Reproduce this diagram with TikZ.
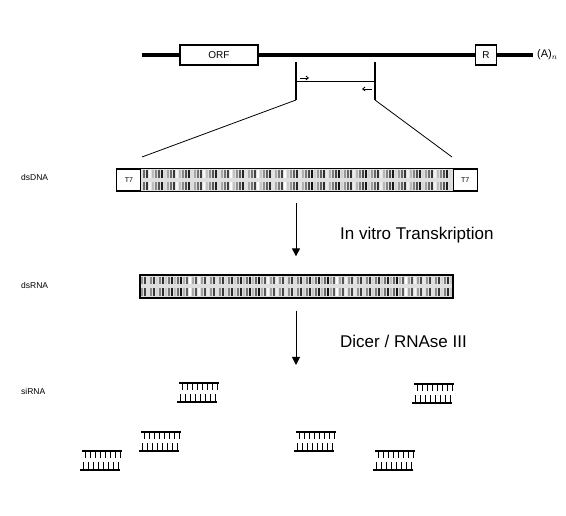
\documentclass[tikz,border=0pt]{standalone}
\usepackage{fontspec}
\setmainfont{Liberation Sans}
\usetikzlibrary{positioning,arrows.meta}

\begin{document}
\begin{tikzpicture}[x=1pt,y=-1pt,
    gene/.style={line width=3.5pt},
    genebox/.style={rectangle,draw,line width=1.3pt,fill=white,
                    minimum height=20pt,inner sep=0pt,
                    font=\fontsize{10}{12}\selectfont},
    strand/.style={rectangle,draw,line width=1.3pt,fill=gray!25,
                   minimum height=23pt,inner sep=0pt},
    promoter/.style={rectangle,draw,line width=1pt,fill=white,
                     minimum width=24pt,minimum height=21pt,inner sep=0pt,
                     font=\fontsize{7}{8}\selectfont},
    rowlabel/.style={anchor=west,inner sep=0pt,font=\fontsize{8.5}{10}\selectfont},
    steplabel/.style={anchor=west,inner sep=0pt,font=\fontsize{17}{20}\selectfont},
    arr/.style={-{Triangle[length=8pt,width=8pt]},line width=1pt},
    primer/.style={-{Straight Barb[length=2.5pt,width=4pt]},line width=0.8pt},
    sirna/.pic={
      \draw[line width=1.6pt] (0,0) -- (40,0);
      \foreach \t in {3,8,...,38} \draw[line width=1pt] (\t,0) -- (\t,7);
      \draw[line width=1.6pt] (-2,19) -- (38,19);
      \foreach \t in {1,6,...,36} \draw[line width=1pt] (\t,19) -- (\t,11);
    }]
  \useasboundingbox (0,0) rectangle (566,516);

  % gene with ORF and R
  \coordinate (gl) at (142,55);
  \coordinate (gr) at (533,55);
  \node[genebox,minimum width=78pt] (orf) at (219,55) {ORF};
  \node[genebox,minimum width=21pt] (r) at (486,55) {R};
  \node[anchor=west,inner sep=0pt,font=\fontsize{11}{12}\selectfont] (polya) at (537,55) {(A)$_n$};
  \draw[gene] (gl) -- (orf);
  \draw[gene] (orf) -- (r);
  \draw[gene] (r) -- (gr);

  % PCR fragment with primers
  \coordinate (p1t) at (296,62);
  \coordinate (p1b) at (296,100);
  \coordinate (p2t) at (375,62);
  \coordinate (p2b) at (375,100);
  \draw[line width=1.3pt] (p1t) -- (p1b);
  \draw[line width=1.3pt] (p2t) -- (p2b);
  \draw[line width=1pt] (p1t |- 0,82) -- (p2t |- 0,82);
  \draw[primer] (300,78) -- (309,78);
  \draw[primer] (372,89) -- (362,89);

  % dsDNA
  \node[strand,minimum width=360pt] (dna) at (297,180) {};
  \foreach \t in {144,147,...,451} {
    \pgfmathtruncatemacro\g{mod(\t*7,95)}
    \draw[black!\g,line width=1.2pt] (\t,170) -- (\t,178) (\t,182) -- (\t,190);
  }
  \node[promoter,anchor=west] (t7a) at (dna.west) {T7};
  \node[promoter,anchor=east] (t7b) at (dna.east) {T7};
  \node[rowlabel] (dnalab) at (21,177) {dsDNA};

  \coordinate (zl) at (142,157);
  \coordinate (zr) at (452,157);
  \draw[line width=0.8pt] (p1b) -- (zl);
  \draw[line width=0.8pt] (p2b) -- (zr);

  % dsRNA
  \node[strand,minimum width=313pt] (rna) at (296.5,286.5) {};
  \foreach \t in {142,145,...,452} {
    \pgfmathtruncatemacro\g{mod(\t*11,95)}
    \draw[black!\g,line width=1.2pt] (\t,277) -- (\t,284) (\t,288) -- (\t,296);
  }
  \node[rowlabel] (rnalab) at (21,285) {dsRNA};

  \draw[arr,shorten <=11pt,shorten >=18pt] (dna.south -| 296,0) -- (rna.north -| 296,0);
  \node[steplabel] (tx) at (340,235) {In vitro Transkription};

  \coordinate (cut) at (296,365);
  \draw[arr,shorten <=12pt] (rna.south -| 296,0) -- (cut);
  \node[steplabel] (dicer) at (340,341) {Dicer / RNAse III};

  % siRNA
  \node[rowlabel] (silab) at (21,391) {siRNA};
  \pic at (179,383) {sirna};
  \pic at (414,384) {sirna};
  \pic at (141,432) {sirna};
  \pic at (296,432) {sirna};
  \pic at (82,451) {sirna};
  \pic at (375,451) {sirna};
\end{tikzpicture}
\end{document}
